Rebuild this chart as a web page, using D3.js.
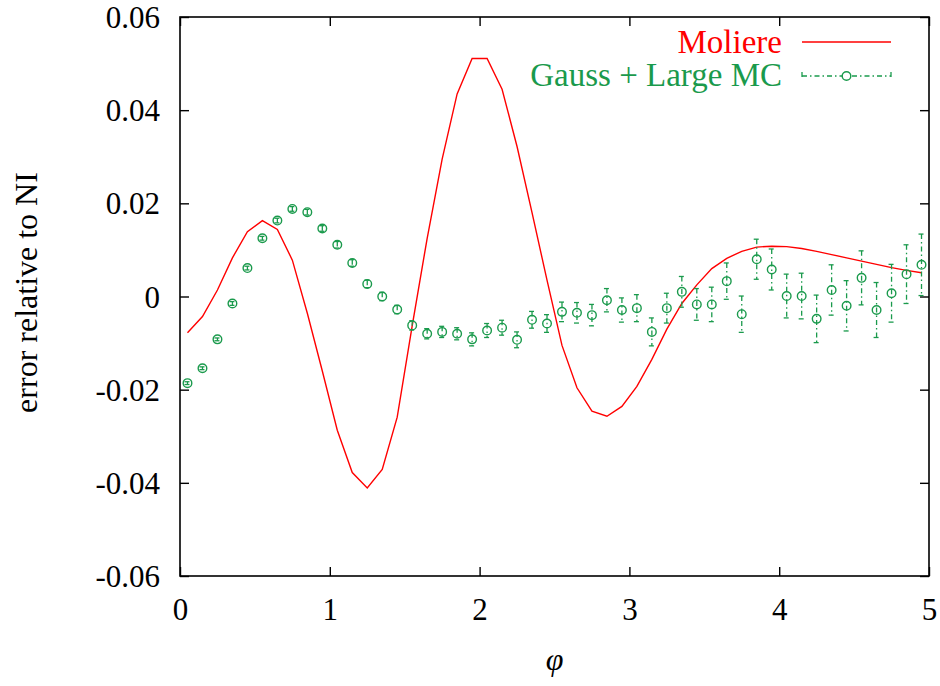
<!DOCTYPE html>
<html>
<head>
<meta charset="utf-8">
<script src="https://cdn.jsdelivr.net/npm/d3@7"></script>
<style>
  html, body { margin: 0; padding: 0; background: #fff; }
  svg { display: block; }
  svg text { font-family: "Liberation Serif", "Times New Roman", serif !important; }
</style>
</head>
<body>
<svg id="chart" width="940" height="686"></svg>
<script>
// ---- data ----
const phi = [0.05,0.15,0.25,0.35,0.45,0.55,0.65,0.75,0.85,0.95,
             1.05,1.15,1.25,1.35,1.45,1.55,1.65,1.75,1.85,1.95,
             2.05,2.15,2.25,2.35,2.45,2.55,2.65,2.75,2.85,2.95,
             3.05,3.15,3.25,3.35,3.45,3.55,3.65,3.75,3.85,3.95,
             4.05,4.15,4.25,4.35,4.45,4.55,4.65,4.75,4.85,4.95];
const moliere = [-0.0078,-0.0043,0.0014,0.0083,0.0139,0.0163,0.0144,0.0078,-0.0036,-0.0160,
                 -0.0287,-0.0378,-0.0411,-0.0371,-0.0259,-0.0063,0.0125,0.0295,0.0435,0.0511,
                 0.0511,0.0445,0.0322,0.0180,0.0035,-0.0105,-0.0196,-0.0246,-0.0257,-0.0236,
                 -0.0193,-0.0135,-0.0070,-0.0015,0.0025,0.0060,0.0082,0.0097,0.0106,0.0108,
                 0.0107,0.0103,0.0097,0.0090,0.0083,0.0076,0.0069,0.0062,0.0056,0.0051];
const gaussMC = [-0.0186,-0.0154,-0.0092,-0.0015,0.0061,0.0125,0.0163,0.0188,0.0181,0.0146,
                 0.0111,0.0072,0.0027,0.0000,-0.0028,-0.0062,-0.0080,-0.0076,-0.0080,-0.0092,
                 -0.0073,-0.0067,-0.0093,-0.0050,-0.0058,-0.0033,-0.0035,-0.0040,-0.0008,-0.0029,
                 -0.0025,-0.0076,-0.0025,0.0010,-0.0017,-0.0017,0.0033,-0.0038,0.0080,0.0058,
                 0.0001,0.0001,-0.0048,0.0014,-0.0020,0.0040,-0.0029,0.0007,0.0048,0.0068];
const gaussErr = [0.0003,0.0003,0.0003,0.0004,0.0004,0.0004,0.0005,0.0005,0.0006,0.0006,
                  0.0007,0.0007,0.0008,0.0009,0.0009,0.0010,0.0011,0.0012,0.0013,0.0014,
                  0.0015,0.0016,0.0017,0.0018,0.0019,0.0021,0.0022,0.0023,0.0025,0.0026,
                  0.0029,0.0030,0.0032,0.0033,0.0034,0.0037,0.0039,0.0039,0.0043,0.0044,
                  0.0047,0.0049,0.0051,0.0054,0.0054,0.0058,0.0059,0.0062,0.0063,0.0066];
const xTicks = [0,1,2,3,4,5];
const yTicks = [-0.06,-0.04,-0.02,0,0.02,0.04,0.06];
const yTickLabels = ["-0.06","-0.04","-0.02","0","0.02","0.04","0.06"];
const seriesNames = ["Moliere","Gauss + Large MC"];

// ---- layout ----
const svg = d3.select("#chart");
const FONT = '"Liberation Serif", "Times New Roman", serif';
const L = 180, R = 929, T = 17, B = 576;
const x = d3.scaleLinear().domain([0,5]).range([L,R]);
const y = d3.scaleLinear().domain([-0.06,0.06]).range([B,T]);
const red = "#ff0000", green = "#1a9a4c";
const tickLen = 9;

// axes with inward ticks and labels
const fs = 31;
const gx = svg.append("g").attr("transform",`translate(0,${B})`)
  .call(d3.axisBottom(x).tickValues(xTicks).tickSizeInner(-tickLen).tickSizeOuter(0).tickPadding(22).tickFormat(d3.format("d")));
const gy = svg.append("g").attr("transform",`translate(${L},0)`)
  .call(d3.axisLeft(y).tickValues(yTicks).tickSizeInner(-tickLen).tickSizeOuter(0).tickPadding(20)
    .tickFormat((d,i)=>yTickLabels[i]));
const gxt = svg.append("g").attr("transform",`translate(0,${T})`)
  .call(d3.axisTop(x).tickValues(xTicks).tickSizeInner(-tickLen).tickSizeOuter(0).tickFormat(""));
const gyr = svg.append("g").attr("transform",`translate(${R},0)`)
  .call(d3.axisRight(y).tickValues(yTicks).tickSizeInner(-tickLen).tickSizeOuter(0).tickFormat(""));
[gx,gy,gxt,gyr].forEach(g=>{
  g.attr("font-family",FONT);
  g.select(".domain").remove();
  g.selectAll(".tick line").attr("stroke","#000").attr("stroke-width",1.4);
  g.selectAll(".tick text").attr("font-size",fs).attr("fill","#000").attr("font-family",FONT);
});
gx.selectAll(".tick text").attr("dy","0.71em").attr("y", 22);
gy.selectAll(".tick text").attr("dy","0.34em");

// frame
svg.append("rect").attr("x",L).attr("y",T).attr("width",R-L).attr("height",B-T)
  .attr("fill","none").attr("stroke","#000").attr("stroke-width",1.6);

// axis labels
svg.append("text").attr("x",(L+R)/2).attr("y",670).attr("text-anchor","middle")
  .attr("font-family",FONT).attr("font-size",32).attr("font-style","italic").text("φ");
svg.append("text").attr("transform",`translate(37,${(T+B)/2-4}) rotate(-90)`)
  .attr("font-family",FONT).attr("text-anchor","middle").attr("font-size",32).text("error relative to NI");

// Moliere line
const pts = phi.map((p,i)=>[p,moliere[i]]);
svg.append("path").datum(pts)
  .attr("d", d3.line().x(d=>x(d[0])).y(d=>y(d[1])))
  .attr("fill","none").attr("stroke",red).attr("stroke-width",1.4);

// Gauss + Large MC with error bars
const dash = "5,3,1.5,3";
const gG = svg.append("g");
const data = phi.map((p,i)=>({p, v:gaussMC[i], e:gaussErr[i]}));
const items = gG.selectAll("g.pt").data(data).join("g").attr("class","pt");
items.append("line")
  .attr("x1",d=>x(d.p)).attr("x2",d=>x(d.p))
  .attr("y1",d=>y(d.v+d.e)).attr("y2",d=>y(d.v-d.e))
  .attr("stroke",green).attr("stroke-width",1.3).attr("stroke-dasharray",dash);
items.append("line")
  .attr("x1",d=>x(d.p)-3).attr("x2",d=>x(d.p)+2)
  .attr("y1",d=>y(d.v+d.e)).attr("y2",d=>y(d.v+d.e))
  .attr("stroke",green).attr("stroke-width",1.3);
items.append("line")
  .attr("x1",d=>x(d.p)-3).attr("x2",d=>x(d.p)+2)
  .attr("y1",d=>y(d.v-d.e)).attr("y2",d=>y(d.v-d.e))
  .attr("stroke",green).attr("stroke-width",1.3);
items.append("circle")
  .attr("cx",d=>x(d.p)).attr("cy",d=>y(d.v)).attr("r",4.3)
  .attr("fill","none").attr("stroke",green).attr("stroke-width",1.4);

// legend
const lx1 = 802, lx2 = 891, ltx = 782;
svg.append("text").attr("x",ltx).attr("y",53).attr("text-anchor","end")
  .attr("font-family",FONT).attr("font-size",33).attr("fill",red).text(seriesNames[0]);
svg.append("line").attr("x1",lx1).attr("x2",lx2).attr("y1",42).attr("y2",42)
  .attr("stroke",red).attr("stroke-width",1.4);
svg.append("text").attr("x",ltx).attr("y",86).attr("text-anchor","end")
  .attr("font-family",FONT).attr("font-size",33).attr("fill",green).text(seriesNames[1]);
const ky = 76;
svg.append("line").attr("x1",lx1).attr("x2",lx2).attr("y1",ky).attr("y2",ky)
  .attr("stroke",green).attr("stroke-width",1.3).attr("stroke-dasharray",dash);
[lx1,lx2].forEach(xx=>{
  svg.append("line").attr("x1",xx).attr("x2",xx).attr("y1",ky-4).attr("y2",ky+1)
    .attr("stroke",green).attr("stroke-width",1.3);
});
svg.append("circle").attr("cx",(lx1+lx2)/2).attr("cy",ky).attr("r",4.3)
  .attr("fill","#fff").attr("stroke",green).attr("stroke-width",1.4);
</script>
</body>
</html>
